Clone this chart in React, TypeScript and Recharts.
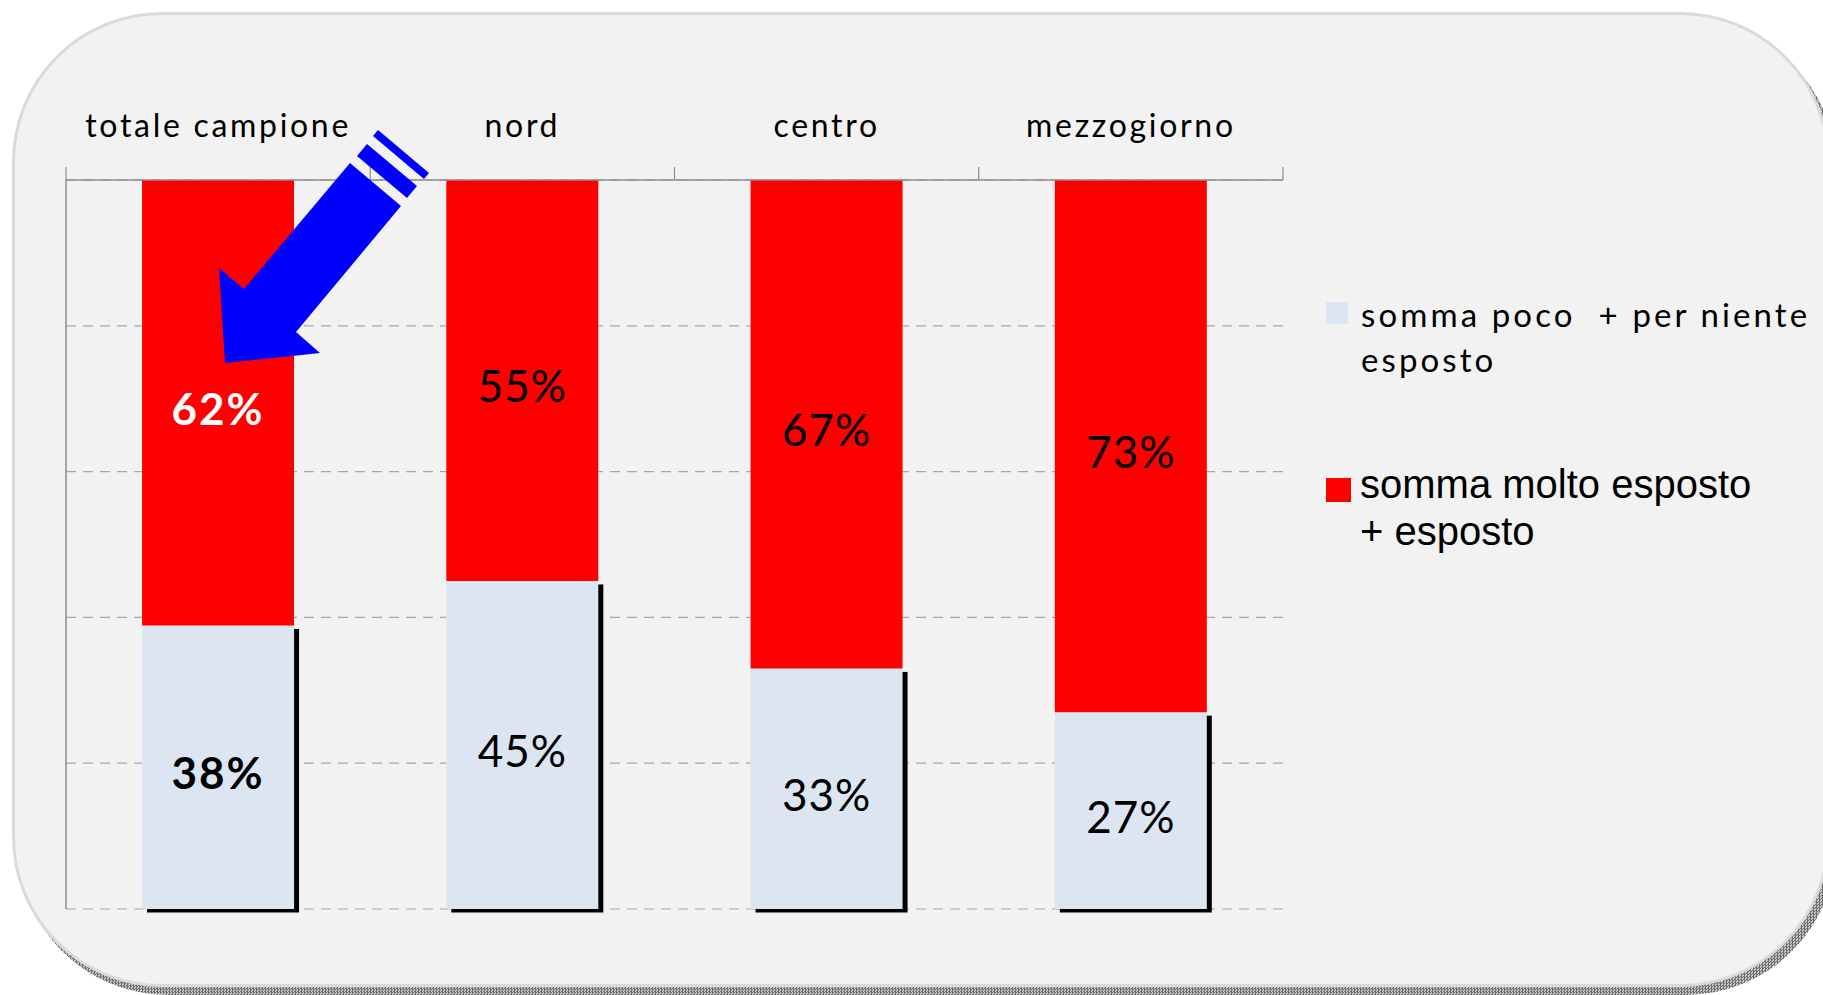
import React from 'react';
import { BarChart, Bar, XAxis, YAxis, CartesianGrid, LabelList, Legend } from 'recharts';

// ---- data ----
const categories = ['totale campione', 'nord', 'centro', 'mezzogiorno'];
const lowValues = [38.9, 45, 33, 27]; // somma poco + per niente esposto
const highValues = [61.1, 55, 67, 73]; // somma molto esposto + esposto
const lowLabels = ['38%', '45%', '33%', '27%'];
const highLabels = ['62%', '55%', '67%', '73%'];
const legendLow = ['somma poco  + per niente', 'esposto'];
const legendHigh = ['somma molto esposto', '+ esposto'];
const yTicks = [0, 20, 40, 60, 80, 100];

const data = categories.map((name, i) => ({ name, low: lowValues[i], high: highValues[i] }));

const LIGHT = '#dce6f2';
const RED = '#ff0000';
const AXIS = '#8c8c8c';
const FONT = 'Lato, "Open Sans", sans-serif';

const ShadowBar = (props: any) => {
  const { x, y, width, height, fill } = props;
  if (!width || !height) return null;
  return (
    <g>
      <rect x={x + 5} y={y + 3.5} width={width} height={height} fill="#000" />
      <rect x={x} y={y} width={width} height={height} fill={fill} />
    </g>
  );
};

const EmptyTick = () => <g />;

const CategoryTick = (props: any) => {
  const { x, y, payload, index, visibleTicksCount, width } = props;
  const half = payload && payload.offset ? payload.offset : width / visibleTicksCount / 2;
  return (
    <g>
      <line x1={x - half} x2={x - half} y1={y} y2={y - 13} stroke={AXIS} strokeWidth={1.2} />
      {index === visibleTicksCount - 1 && (
        <line x1={x + half} x2={x + half} y1={y} y2={y - 13} stroke={AXIS} strokeWidth={1.2} />
      )}
      <text
        x={x}
        y={y - 56}
        textAnchor="middle"
        dominantBaseline="central"
        fontFamily={FONT}
        fontSize={32}
        letterSpacing={2.7}
        fill="#000"
      >
        {payload.value}
      </text>
    </g>
  );
};

const makeLabel = (labels: string[], kind: 'low' | 'high') => (props: any) => {
  const { x, y, width, height, index } = props;
  const first = index === 0;
  const fill = kind === 'high' && first ? '#ffffff' : '#000000';
  return (
    <text
      x={x + width / 2}
      y={y + height / 2 + 5}
      textAnchor="middle"
      dominantBaseline="central"
      fontFamily={FONT}
      fontSize={44}
      fontWeight={first ? 700 : 400}
      letterSpacing={first ? 2 : 1}
      fill={fill}
    >
      {labels[index]}
    </text>
  );
};

const LegendContent = () => (
  <svg width={497} height={260} style={{ display: 'block', overflow: 'visible' }}>
    <rect x={0} y={2} width={22} height={22} fill={LIGHT} />
    <text x={35} y={27} fontFamily={FONT} fontSize={33} letterSpacing={3.1} fill="#000" style={{ whiteSpace: 'pre' }}>
      {legendLow[0]}
    </text>
    <text x={35} y={72} fontFamily={FONT} fontSize={33} letterSpacing={3.1} fill="#000">
      {legendLow[1]}
    </text>
    <rect x={0} y={178} width={25} height={24} fill={RED} />
    <text x={34} y={198} fontFamily='"Liberation Sans", Arial, sans-serif' fontSize={40} fill="#000">
      {legendHigh[0]}
    </text>
    <text x={34} y={245} fontFamily='"Liberation Sans", Arial, sans-serif' fontSize={40} fill="#000">
      {legendHigh[1]}
    </text>
  </svg>
);

export default function App() {
  return (
    <div style={{ position: 'absolute', left: 0, top: 0, width: 1823, height: 995, background: '#ffffff', overflow: 'hidden' }}>
      {/* shadow */}
      <div
        style={{
          position: 'absolute',
          left: 18,
          top: 20,
          width: 1818,
          height: 975,
          borderRadius: 150,
          background: 'repeating-conic-gradient(#6e6e6e 0 25%, #c8c8c8 0 50%) 0 0/3px 3px',
        }}
      />
      {/* card */}
      <div
        style={{
          position: 'absolute',
          left: 12,
          top: 12,
          width: 1818,
          height: 975,
          borderRadius: 150,
          background: '#f2f2f2',
          border: '3px solid #dadada',
          boxSizing: 'border-box',
        }}
      />
      <div style={{ position: 'absolute', left: 0, top: 0 }}>
        <BarChart
          width={1823}
          height={995}
          data={data}
          margin={{ top: 120, right: 540, bottom: 86, left: 65 }}
          barCategoryGap="25%"
        >
          <CartesianGrid vertical={false} stroke="#a6a6a6" strokeDasharray="10 7" strokeWidth={1.2} syncWithTicks />
          <XAxis
            dataKey="name"
            orientation="top"
            height={60}
            tickSize={0}
            tickMargin={0}
            tickLine={false}
            interval={0}
            axisLine={{ stroke: AXIS, strokeWidth: 1.5 }}
            tick={<CategoryTick />}
          />
          <YAxis
            type="number"
            domain={[0, 100]}
            ticks={yTicks}
            interval={0}
            width={1}
            tick={<EmptyTick />}
            tickLine={false}
            axisLine={{ stroke: AXIS, strokeWidth: 1.5 }}
          />
          <Legend
            layout="horizontal"
            verticalAlign="middle"
            align="center"
            content={<LegendContent />}
            wrapperStyle={{ position: 'absolute', left: 1326, top: 300, width: 497, height: 260 }}
          />
          <Bar dataKey="low" name="somma poco + per niente esposto" stackId="a" fill={LIGHT} shape={<ShadowBar />} isAnimationActive={false}>
            <LabelList dataKey="low" content={makeLabel(lowLabels, 'low')} />
          </Bar>
          <Bar dataKey="high" name="somma molto esposto + esposto" stackId="a" fill={RED} isAnimationActive={false}>
            <LabelList dataKey="high" content={makeLabel(highLabels, 'high')} />
          </Bar>
        </BarChart>
      </div>
      {/* arrow annotation */}
      <svg width={1823} height={995} style={{ position: 'absolute', left: 0, top: 0, pointerEvents: 'none' }}>
        <polygon points="350,163 401,206 296,332 320,353 225,363 219,268 244,289" fill="#0000ff" />
        <polygon points="357,156 367,144 417,186 407,198" fill="#0000ff" />
        <polygon points="373,136 378,130 429,173 424,179" fill="#0000ff" />
      </svg>
    </div>
  );
}
